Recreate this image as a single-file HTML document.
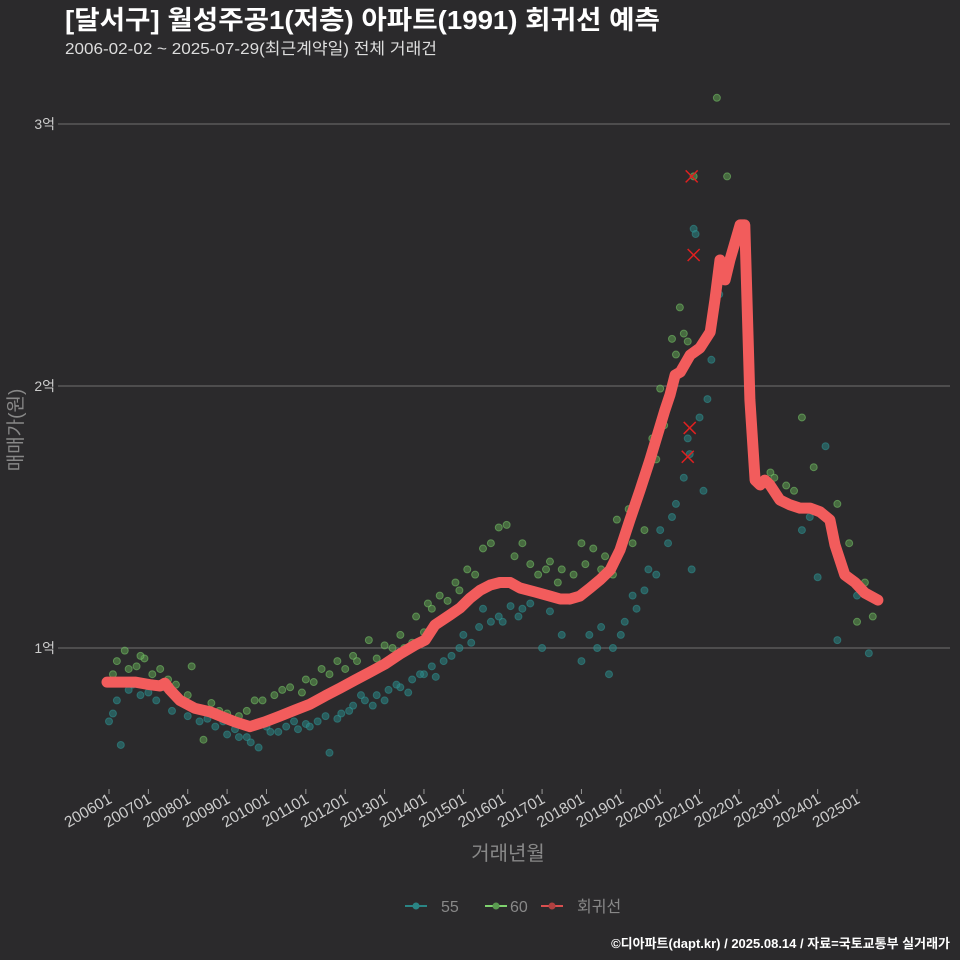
<!DOCTYPE html>
<html><head><meta charset="utf-8"><style>
body{margin:0;background:#2b2a2c;}
svg{display:block;font-family:"Liberation Sans","Noto Sans CJK KR",sans-serif;}
</style></head><body>
<svg id="c" width="960" height="960" viewBox="0 0 960 960">
<rect width="960" height="960" fill="#2b2a2c"/>
<text x="65" y="29" fill="#fff" font-size="26" font-weight="bold" textLength="595" lengthAdjust="spacingAndGlyphs">[달서구] 월성주공1(저층) 아파트(1991) 회귀선 예측</text>
<text x="65" y="54" fill="#ddd" font-size="16" textLength="372" lengthAdjust="spacingAndGlyphs">2006-02-02 ~ 2025-07-29(최근계약일) 전체 거래건</text>
<text transform="translate(22,430) rotate(-90)" text-anchor="middle" fill="#888" font-size="19">매매가(원)</text>
<text x="508" y="860" text-anchor="middle" fill="#888" font-size="20">거래년월</text>
<g id="grid"></g><g id="pts"></g><g id="line"></g><g id="xax"></g>
<g>
<g><line x1="405" y1="906" x2="427" y2="906" stroke="#2a8585" stroke-width="2"/><circle cx="416" cy="906" r="3.5" fill="#2a8585"/><text x="441" y="912" fill="#888" font-size="16">55</text></g>
<g><line x1="485" y1="906" x2="507" y2="906" stroke="#7ed26e" stroke-width="2"/><circle cx="496" cy="906" r="3.5" fill="#5a9a50"/><text x="510" y="912" fill="#888" font-size="16">60</text></g>
<g><line x1="541" y1="906" x2="563" y2="906" stroke="#d94f4f" stroke-width="2"/><circle cx="552" cy="906" r="3.5" fill="#b04040"/><text x="577" y="912" fill="#888" font-size="16">회귀선</text></g>
</g>
<text x="950" y="948" text-anchor="end" fill="#fff" font-size="13" font-weight="bold">©디아파트(dapt.kr) / 2025.08.14 / 자료=국토교통부 실거래가</text>
</svg>
<script>
const yTicks=[1,2,3];
const yTickLabels=["1억","2억","3억"];
const xTickYears=[2006,2007,2008,2009,2010,2011,2012,2013,2014,2015,2016,2017,2018,2019,2020,2021,2022,2023,2024,2025];
const xTickLabels=["200601","200701","200801","200901","201001","201101","201201","201301","201401","201501","201601","201701","201801","201901","202001","202101","202201","202301","202401","202501"];
const lineYears=[2005.95,2006.28,2006.66,2007.04,2007.30,2007.42,2007.55,2007.80,2008.18,2008.57,2008.95,2009.20,2009.58,2009.96,2010.34,2010.72,2011.11,2011.49,2011.87,2012.25,2012.63,2013.01,2013.39,2013.77,2014.03,2014.28,2014.66,2014.92,2015.17,2015.42,2015.68,2015.93,2016.19,2016.44,2016.82,2017.20,2017.46,2017.71,2017.96,2018.22,2018.47,2018.73,2018.98,2019.23,2019.49,2019.74,2020.12,2020.25,2020.38,2020.51,2020.76,2021.01,2021.27,2021.39,2021.52,2021.65,2021.77,2022.03,2022.15,2022.28,2022.41,2022.54,2022.66,2022.79,2023.04,2023.30,2023.55,2023.81,2024.06,2024.31,2024.44,2024.69,2024.95,2025.20,2025.53];
const lineValues=[0.87,0.87,0.87,0.86,0.855,0.866,0.84,0.80,0.77,0.756,0.733,0.718,0.70,0.718,0.74,0.763,0.786,0.817,0.847,0.878,0.908,0.939,0.977,1.011,1.03,1.088,1.126,1.153,1.19,1.22,1.24,1.25,1.25,1.229,1.214,1.198,1.187,1.187,1.198,1.229,1.26,1.298,1.374,1.489,1.603,1.718,1.908,1.966,2.042,2.053,2.118,2.145,2.206,2.328,2.481,2.405,2.481,2.615,2.615,1.947,1.641,1.622,1.641,1.622,1.565,1.546,1.534,1.534,1.52,1.489,1.393,1.279,1.25,1.21,1.183];
const s55Years=[2006.0,2006.1,2006.3,2006.5,2006.8,2007.2,2007.6,2008.0,2008.3,2008.7,2009.0,2009.3,2009.6,2009.8,2010.1,2010.5,2010.8,2011.0,2011.3,2011.6,2011.9,2012.2,2012.5,2012.8,2013.1,2013.4,2013.7,2014.0,2014.5,2015.0,2015.5,2016.0,2016.5,2017.0,2017.5,2018.0,2018.4,2018.7,2019.0,2019.3,2019.7,2020.0,2020.3,2020.6,2020.8,2020.85,2020.9,2021.0,2021.1,2021.3,2021.6,2023.6,2023.8,2024.0,2024.2,2024.5,2025.0,2025.3,
2006.2,2006.6,2007.0,2007.4,2007.9,2008.5,2008.9,2009.2,2009.5,2010.0,2010.3,2010.7,2011.1,2011.5,2011.8,2012.1,2012.4,2012.7,2013.0,2013.3,2013.6,2013.9,2014.2,2014.3,2014.7,2014.9,2015.2,2015.4,2015.7,2015.9,2016.2,2016.4,2016.7,2017.2,2017.7,2018.2,2018.5,2018.8,2019.1,2019.4,2019.6,2019.9,2020.2,2020.4,2020.7,2020.75,2021.2,2021.4,2021.5];
const s55Values=[0.72,0.75,0.63,0.84,0.82,0.80,0.76,0.74,0.72,0.70,0.67,0.66,0.64,0.62,0.68,0.70,0.69,0.71,0.72,0.60,0.75,0.78,0.80,0.82,0.84,0.85,0.88,0.90,0.95,1.05,1.15,1.10,1.15,1.00,1.05,0.95,1.00,0.90,1.05,1.20,1.30,1.45,1.50,1.65,1.30,2.60,2.58,1.88,1.60,2.10,2.40,1.45,1.50,1.27,1.77,1.03,1.20,0.98,
0.80,0.86,0.83,0.85,0.80,0.73,0.72,0.69,0.66,0.70,0.68,0.72,0.70,0.74,0.73,0.76,0.82,0.78,0.80,0.86,0.83,0.90,0.93,0.89,0.97,1.00,1.02,1.08,1.10,1.12,1.16,1.12,1.17,1.14,1.18,1.05,1.08,1.00,1.10,1.15,1.22,1.28,1.40,1.55,1.80,1.74,1.95,2.30,2.35];
const s60Years=[2006.2,2006.4,2006.7,2006.9,2007.3,2007.7,2008.1,2008.4,2008.8,2009.3,2009.7,2010.2,2010.6,2011.0,2011.4,2011.8,2012.2,2012.6,2013.0,2013.4,2013.8,2014.1,2014.4,2014.8,2015.1,2015.5,2015.9,2016.1,2016.5,2016.9,2017.2,2017.5,2018.0,2018.3,2018.6,2018.9,2019.2,2019.5,2019.8,2020.0,2020.3,2020.5,2020.6,2020.85,2021.44,2021.7,2022.8,2023.2,2023.6,2023.9,2024.5,2024.8,2025.2,2025.4,2025.0,
2006.1,2006.5,2006.8,2007.1,2007.5,2008.0,2008.6,2009.0,2009.5,2009.9,2010.4,2010.9,2011.2,2011.6,2012.0,2012.3,2012.8,2013.2,2013.5,2013.7,2014.0,2014.2,2014.6,2014.9,2015.3,2015.7,2016.3,2016.7,2017.1,2017.4,2017.8,2018.1,2018.5,2018.8,2019.3,2019.6,2019.9,2020.1,2020.4,2020.7,2022.9,2023.4];
const s60Values=[0.95,0.99,0.93,0.96,0.92,0.86,0.93,0.65,0.76,0.74,0.80,0.82,0.85,0.88,0.92,0.95,0.97,1.03,1.01,1.05,1.12,1.17,1.20,1.25,1.30,1.38,1.46,1.47,1.40,1.28,1.33,1.30,1.40,1.38,1.35,1.49,1.53,1.60,1.80,1.99,2.18,2.30,2.20,2.80,3.10,2.80,1.67,1.62,1.88,1.69,1.55,1.40,1.25,1.12,1.10,
0.90,0.92,0.97,0.90,0.88,0.82,0.79,0.75,0.76,0.80,0.84,0.83,0.87,0.90,0.92,0.95,0.96,1.00,1.00,1.02,1.06,1.15,1.18,1.22,1.28,1.40,1.35,1.32,1.30,1.25,1.28,1.32,1.30,1.28,1.40,1.45,1.72,1.85,2.12,2.17,1.65,1.60];
const xYears=[2020.8,2020.85,2020.75,2020.7];
const xValues=[2.80,2.50,1.84,1.73];

const NS="http://www.w3.org/2000/svg";
const X=y=>109+(y-2006)*39.37;
const Y=v=>648-(v-1)*262;
function mk(tag,attrs,parent){const e=document.createElementNS(NS,tag);for(const k in attrs)e.setAttribute(k,attrs[k]);parent.appendChild(e);return e;}
const grid=document.getElementById('grid');
yTicks.forEach((t,i)=>{
  const g=mk('g',{},grid);
  
  
  mk('line',{x1:58,x2:950,y1:Y(t),y2:Y(t),stroke:'#707070','stroke-width':1},g);
  const tx=mk('text',{x:55,y:Y(t)+5,'text-anchor':'end',fill:'#ccc','font-size':14},g);
  tx.textContent=yTickLabels[i];
});
const xax=document.getElementById('xax');
xTickYears.forEach((yr,i)=>{
  const g=mk('g',{},xax);
  
  
  const x=X(yr);
  mk('line',{x1:x,x2:x,y1:789,y2:794,stroke:'#999'},g);
  const t=mk('text',{transform:`translate(${x+4},${802}) rotate(-30)`,'text-anchor':'end',fill:'#ccc','font-size':15.5},g);
  t.textContent=xTickLabels[i];
});
const pts=document.getElementById('pts');
s55Years.forEach((yr,i)=>{
  const c=mk('circle',{cx:X(yr),cy:Y(s55Values[i]),r:3.5,fill:'#2a8585','fill-opacity':0.55,stroke:'#2f9a9a','stroke-opacity':0.5},pts);
  
  
});
s60Years.forEach((yr,i)=>{
  const c=mk('circle',{cx:X(yr),cy:Y(s60Values[i]),r:3.5,fill:'#5f9f52','fill-opacity':0.55,stroke:'#7ed26e','stroke-opacity':0.5},pts);
  
  
});
xYears.forEach((yr,i)=>{
  const x=X(yr),y=Y(xValues[i]);
  const p=mk('path',{d:`M${x-6},${y-6}L${x+6},${y+6}M${x-6},${y+6}L${x+6},${y-6}`,stroke:'#e02020','stroke-width':1.5},pts);
  
  
});
const line=document.getElementById('line');
const d=lineYears.map((yr,i)=>(i?'L':'M')+X(yr).toFixed(1)+','+Y(lineValues[i]).toFixed(1)).join('');
const pl=mk('path',{d:d,fill:'none',stroke:'#f25c5c','stroke-width':11,'stroke-linejoin':'round','stroke-linecap':'round'},line);


</script>
</body></html>
